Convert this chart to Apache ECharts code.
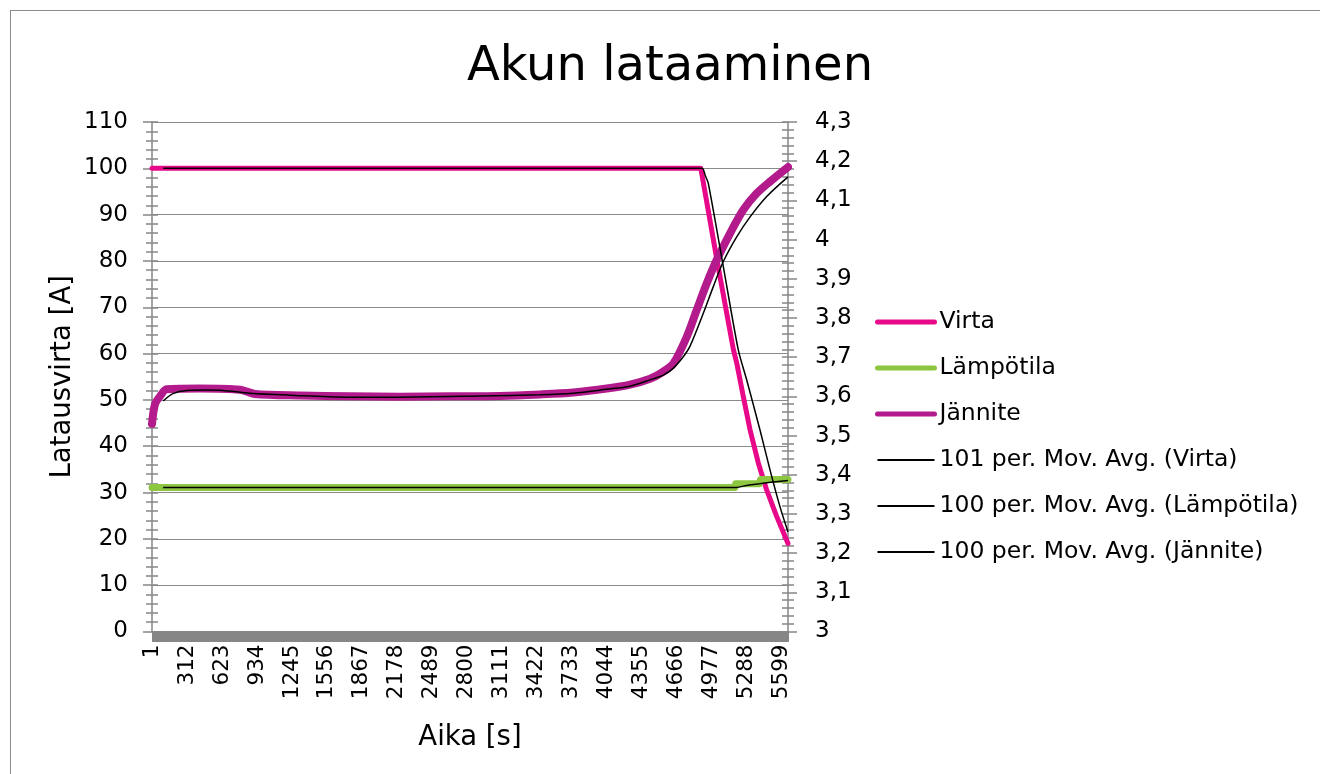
<!DOCTYPE html>
<html><head><meta charset="utf-8">
<script src="https://cdn.jsdelivr.net/npm/echarts@6/dist/echarts.min.js"></script>
<style>
html,body{margin:0;padding:0;background:#fff;}
#frame{position:absolute;left:10px;top:10px;width:1330px;height:800px;border:1.5px solid #8c8c8c;box-sizing:border-box;}
#chart{position:absolute;left:0;top:0;width:1320px;height:774px;}
</style></head><body>
<div id="frame"></div><div id="chart"></div>
<script>
// number of samples (seconds) on the category axis
const N = 5655;
const categories = Array.from({length: N}, (_, i) => String(i + 1));

// Virta (left axis, A)
const virtaT = [1, 4880, 5025, 5170, 5199, 5258, 5318, 5391, 5466, 5555, 5655];
const virtaV = [100, 100, 80, 60.8, 58.0, 50.7, 43.5, 36.4, 30.5, 24.8, 19.0];

// Lämpötila (left axis)
const lampT = [1, 5184, 5190, 5400, 5410, 5655];
const lampV = [31.1, 31.1, 31.9, 31.9, 32.8, 32.8];

// Jännite (right axis, V)
const janT = [1, 28, 72, 131, 428, 783, 917, 1317, 1761, 2206, 2650, 3095, 3451, 3745, 4044, 4251, 4429, 4540, 4636, 4755, 4843, 4932, 5021, 5140, 5258, 5377, 5495, 5655];
const janV = [3.53, 3.58, 3.60, 3.618, 3.620, 3.617, 3.606, 3.602, 3.600, 3.599, 3.600, 3.601, 3.605, 3.610, 3.620, 3.630, 3.645, 3.662, 3.684, 3.752, 3.82, 3.888, 3.948, 4.016, 4.076, 4.118, 4.148, 4.185];

// Moving averages (trendlines)
const virtaMaT = [101, 4890, 4920, 4946, 5080, 5213, 5288, 5406, 5495, 5584, 5655];
const virtaMaV = [100, 100, 98.4, 96.8, 78.8, 60.8, 54.3, 43.5, 34.9, 26.9, 21.5];
const lampMaT = [100, 5190, 5300, 5400, 5500, 5655];
const lampMaV = [31.1, 31.1, 31.6, 31.9, 32.2, 32.6];
const janMaT = [100, 187, 309, 486, 631, 871, 1227, 1731, 2176, 2917, 3450, 3746, 4043, 4250, 4428, 4547, 4636, 4724, 4784, 4902, 4991, 5080, 5199, 5318, 5466, 5655];
const janMaV = [3.588, 3.607, 3.615, 3.616, 3.615, 3.608, 3.603, 3.598, 3.598, 3.601, 3.604, 3.608, 3.618, 3.626, 3.642, 3.654, 3.672, 3.701, 3.728, 3.812, 3.88, 3.944, 4.007, 4.058, 4.11, 4.16];

const names = ['Virta', 'Lämpötila', 'Jännite', '101 per. Mov. Avg. (Virta)', '100 per. Mov. Avg. (Lämpötila)', '100 per. Mov. Avg. (Jännite)'];

const FONT = 'DejaVu Sans';
const GREY = '#868686';
const C_VIRTA = '#E8088A', C_LAMP = '#8DC641', C_JAN = '#B31B8D';

function pairs(T, V) { return T.map((t, i) => [t - 1, V[i]]); }

function tickAxis(pos, min, max, interval) {
  return {
    type: 'value', min: min, max: max, interval: interval, position: pos,
    axisLine: {show: false}, axisLabel: {show: false}, splitLine: {show: false},
    axisTick: {show: true, inside: true, length: 6, lineStyle: {color: GREY, width: 1.5}},
    minorTick: {show: true, splitNumber: 5, length: 6, lineStyle: {color: GREY, width: 1.5}}
  };
}

const chart = echarts.init(document.getElementById('chart'), null, {renderer: 'canvas'});
chart.setOption({
  animation: false,
  backgroundColor: 'transparent',
  textStyle: {fontFamily: FONT},
  title: {
    text: 'Akun lataaminen', left: 665, top: 39, textAlign: 'center',
    textStyle: {fontSize: 48, fontWeight: 'normal', color: '#000', fontFamily: FONT}
  },
  grid: {left: 152, right: 532, top: 122, bottom: 142.5, containLabel: false},
  legend: {
    orient: 'vertical', left: 875, top: 310, padding: 0, itemWidth: 57, itemHeight: 14, itemGap: 22,
    itemStyle: {opacity: 0},
    textStyle: {fontSize: 23.5, color: '#000', fontFamily: FONT, lineHeight: 22},
    data: [
      {name: names[0], lineStyle: {width: 5, cap: 'round'}},
      {name: names[1], lineStyle: {width: 5, cap: 'round'}},
      {name: names[2], lineStyle: {width: 5, cap: 'round'}},
      {name: names[3], lineStyle: {width: 1.8}},
      {name: names[4], lineStyle: {width: 1.8}},
      {name: names[5], lineStyle: {width: 1.8}}
    ]
  },
  xAxis: {
    type: 'category', data: categories, boundaryGap: false,
    name: 'Aika [s]', nameLocation: 'middle', nameGap: 92,
    nameTextStyle: {fontSize: 27.5, color: '#000', fontFamily: FONT},
    axisLine: {show: true, lineStyle: {color: GREY, width: 1.5}},
    axisTick: {show: true, interval: 0, length: 10, lineStyle: {color: GREY, width: 1}},
    axisLabel: {interval: 310, rotate: 90, margin: 13, fontSize: 21.5, color: '#000', fontFamily: FONT},
    splitLine: {show: false}
  },
  yAxis: [
    {
      type: 'value', min: 0, max: 110, interval: 10, position: 'left',
      name: 'Latausvirta [A]', nameLocation: 'middle', nameGap: 75,
      nameTextStyle: {fontSize: 27.5, color: '#000', fontFamily: FONT},
      axisLine: {show: true, lineStyle: {color: GREY, width: 1.5}},
      axisTick: {show: true, length: 9, lineStyle: {color: GREY, width: 1.5}},
      minorTick: {show: true, splitNumber: 5, length: 6, lineStyle: {color: GREY, width: 1.5}},
      splitLine: {show: true, lineStyle: {color: '#8a8a8a', width: 1.2}},
      axisLabel: {fontSize: 23, margin: 24, color: '#000', fontFamily: FONT}
    },
    {
      type: 'value', min: 3, max: 4.3, interval: 0.1, position: 'right',
      axisLine: {show: true, lineStyle: {color: GREY, width: 1.5}},
      axisTick: {show: true, length: 9, lineStyle: {color: GREY, width: 1.5}},
      minorTick: {show: true, splitNumber: 5, length: 6, lineStyle: {color: GREY, width: 1.5}},
      splitLine: {show: false},
      axisLabel: {fontSize: 23, margin: 27, color: '#000', fontFamily: FONT,
        formatter: v => String(Math.round(v * 10) / 10).replace('.', ',')}
    },
    tickAxis('left', 0, 110, 10),
    tickAxis('right', 3, 4.3, 0.1)
  ],
  series: [
    {name: names[0], type: 'line', yAxisIndex: 0, data: pairs(virtaT, virtaV), symbol: 'none',
     lineStyle: {color: C_VIRTA, width: 5, cap: 'round', join: 'round'}, itemStyle: {color: C_VIRTA}},
    {name: names[1], type: 'line', yAxisIndex: 0, data: pairs(lampT, lampV), symbol: 'none',
     lineStyle: {color: C_LAMP, width: 7, cap: 'round', join: 'round'}, itemStyle: {color: C_LAMP}},
    {name: names[2], type: 'line', yAxisIndex: 1, data: pairs(janT, janV), symbol: 'none', smooth: 0.3,
     lineStyle: {color: C_JAN, width: 8, cap: 'round', join: 'round'}, itemStyle: {color: C_JAN}},
    {name: names[3], type: 'line', yAxisIndex: 0, data: pairs(virtaMaT, virtaMaV), symbol: 'none', smooth: 0.25,
     lineStyle: {color: '#000', width: 1.5}, itemStyle: {color: '#000'}},
    {name: names[4], type: 'line', yAxisIndex: 0, data: pairs(lampMaT, lampMaV), symbol: 'none', smooth: 0.3,
     lineStyle: {color: '#000', width: 1.5}, itemStyle: {color: '#000'}},
    {name: names[5], type: 'line', yAxisIndex: 1, data: pairs(janMaT, janMaV), symbol: 'none', smooth: 0.3,
     lineStyle: {color: '#000', width: 1.5}, itemStyle: {color: '#000'}}
  ]
});
</script>
</body></html>
